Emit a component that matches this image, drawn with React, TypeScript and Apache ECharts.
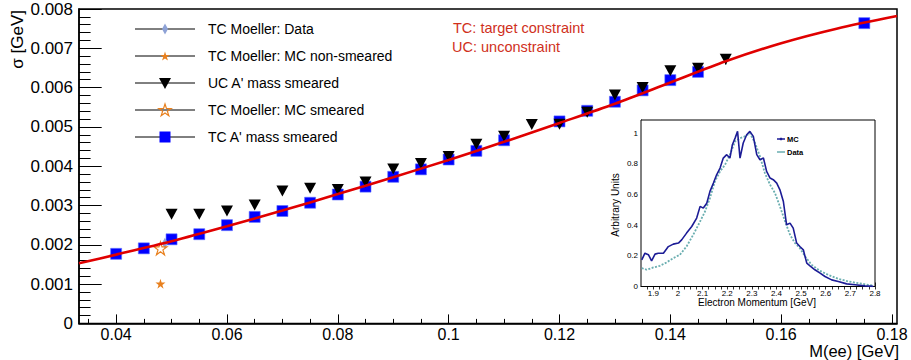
import React, { useEffect, useRef } from "react";
import * as echarts from "echarts";

// ---------- main plot data ----------
const tcMassX = [0.04, 0.045, 0.05, 0.055, 0.06, 0.065, 0.07, 0.075, 0.08, 0.085, 0.09, 0.095, 0.1, 0.105, 0.11, 0.12, 0.125, 0.13, 0.135, 0.14, 0.145, 0.175];
const tcMassSigma = [0.00177, 0.00191, 0.00214, 0.00227, 0.0025, 0.00271, 0.00286, 0.00307, 0.00328, 0.00348, 0.00373, 0.00392, 0.00417, 0.00439, 0.00466, 0.00514, 0.00541, 0.00564, 0.00593, 0.00619, 0.0064, 0.00764];

const ucMassX = [0.05, 0.055, 0.06, 0.065, 0.07, 0.075, 0.08, 0.085, 0.09, 0.095, 0.1, 0.105, 0.11, 0.115, 0.12, 0.125, 0.13, 0.135, 0.14, 0.145, 0.15];
const ucMassSigma = [0.00278, 0.00278, 0.00286, 0.00301, 0.00337, 0.00344, 0.00341, 0.0036, 0.00393, 0.00407, 0.00425, 0.00456, 0.00476, 0.00506, 0.00507, 0.00537, 0.00581, 0.006, 0.00643, 0.00649, 0.00672];
const ucMassErr = [0.00004, 0.00004, 0.00004, 0.00004, 0.00004, 0.00004, 0.00004, 0.00005, 0.00005, 0.00005, 0.00005, 0.00005, 0.00006, 0.00006, 0.00006, 0.00007, 0.00007, 0.00008, 0.00009, 0.0001, 0.00013];

const moellerDataX = [0.0488];
const moellerDataSigma = [0.00204];
const moellerMcNonSmearedX = [0.048];
const moellerMcNonSmearedSigma = [0.00101];
const moellerMcSmearedX = [0.048];
const moellerMcSmearedSigma = [0.00191];

const fitX = [0.0333, 0.04, 0.05, 0.06, 0.07, 0.08, 0.09, 0.1, 0.11, 0.12, 0.13, 0.14, 0.15, 0.16, 0.17, 0.1809];
const fitSigma = [0.00153, 0.00175, 0.00209, 0.00247, 0.00287, 0.00329, 0.00372, 0.00416, 0.00462, 0.0051, 0.00559, 0.00613, 0.00667, 0.00713, 0.0075, 0.00782];

const xMajorTicks = [0.04, 0.06, 0.08, 0.1, 0.12, 0.14, 0.16, 0.18];
const xMinorTicks = [0.035, 0.045, 0.05, 0.055, 0.065, 0.07, 0.075, 0.085, 0.09, 0.095, 0.105, 0.11, 0.115, 0.125, 0.13, 0.135, 0.145, 0.15, 0.155, 0.165, 0.17, 0.175];

// ---------- inset data ----------
const mcMomentum = [1.853, 1.866, 1.88, 1.893, 1.907, 1.92, 1.941, 1.961, 1.981, 2.002, 2.015, 2.035, 2.056, 2.076, 2.09, 2.103, 2.117, 2.13, 2.144, 2.157, 2.171, 2.184, 2.198, 2.211, 2.221, 2.232, 2.242, 2.252, 2.265, 2.279, 2.292, 2.306, 2.32, 2.333, 2.347, 2.36, 2.374, 2.387, 2.401, 2.414, 2.428, 2.441, 2.455, 2.468, 2.482, 2.495, 2.509, 2.523, 2.536, 2.556, 2.577, 2.597, 2.624, 2.651, 2.685, 2.719, 2.759, 2.793];
const mcUnits = [0.174, 0.217, 0.207, 0.167, 0.211, 0.217, 0.217, 0.26, 0.276, 0.283, 0.304, 0.348, 0.391, 0.446, 0.522, 0.511, 0.543, 0.62, 0.674, 0.728, 0.772, 0.837, 0.859, 0.837, 0.924, 0.967, 1.011, 0.837, 0.935, 0.989, 1.011, 0.978, 0.859, 0.826, 0.837, 0.75, 0.707, 0.696, 0.674, 0.63, 0.554, 0.402, 0.413, 0.38, 0.283, 0.261, 0.239, 0.152, 0.135, 0.109, 0.087, 0.065, 0.043, 0.033, 0.017, 0.011, 0.004, 0.001];
const dataMomentum = [1.853, 1.873, 1.9, 1.927, 1.954, 1.981, 2.008, 2.035, 2.062, 2.09, 2.11, 2.13, 2.15, 2.171, 2.191, 2.211, 2.232, 2.252, 2.272, 2.292, 2.313, 2.333, 2.353, 2.374, 2.394, 2.414, 2.435, 2.455, 2.475, 2.495, 2.516, 2.543, 2.577, 2.61, 2.651, 2.692, 2.732, 2.773, 2.793];
const dataUnits = [0.12, 0.109, 0.124, 0.135, 0.157, 0.185, 0.207, 0.261, 0.337, 0.424, 0.489, 0.576, 0.685, 0.75, 0.793, 0.859, 0.946, 0.967, 0.978, 1.0, 0.935, 0.848, 0.739, 0.663, 0.609, 0.522, 0.424, 0.337, 0.283, 0.25, 0.196, 0.141, 0.102, 0.076, 0.05, 0.033, 0.022, 0.011, 0.007];

const insetXMajor = [1.9, 2.0, 2.1, 2.2, 2.3, 2.4, 2.5, 2.6, 2.7, 2.8];
const insetXMinor = [1.875, 1.925, 1.95, 1.975, 2.025, 2.05, 2.075, 2.125, 2.15, 2.175, 2.225, 2.25, 2.275, 2.325, 2.35, 2.375, 2.425, 2.45, 2.475, 2.525, 2.55, 2.575, 2.625, 2.65, 2.675, 2.725, 2.75, 2.775];
const insetYMajor = [0, 0.2, 0.4, 0.6, 0.8, 1.0];
const insetYMinor = [0.04, 0.08, 0.12, 0.16, 0.24, 0.28, 0.32, 0.36, 0.44, 0.48, 0.52, 0.56, 0.64, 0.68, 0.72, 0.76, 0.84, 0.88, 0.92, 0.96, 1.04, 1.08];

const legendLabels = ["TC Moeller: Data", "TC Moeller: MC non-smeared", "UC A' mass smeared", "TC Moeller: MC smeared", "TC A' mass smeared"];

const FONT = "'Liberation Sans', Arial, Helvetica, sans-serif";
const ORANGE = "#e8801e";
const BLUE = "#0000ff";
const DIAMOND = "#8ea2d6";
const MC_COLOR = "#1c1c96";
const DATA_COLOR = "#6aaeb0";

const STAR_PATH =
  "path://M50 0 L61.17 34.63 L97.55 34.55 L68.07 55.87 L79.39 90.45 L50 69 L20.61 90.45 L31.93 55.87 L2.45 34.55 L38.83 34.63 Z";

function starPoints(cx: number, cy: number, r: number): number[][] {
  const pts: number[][] = [];
  for (let i = 0; i < 10; i++) {
    const ang = -Math.PI / 2 + (i * Math.PI) / 5;
    const rr = i % 2 === 0 ? r : r * 0.38;
    pts.push([cx + rr * Math.cos(ang), cy + rr * Math.sin(ang)]);
  }
  return pts;
}

const zip = (xs: number[], ys: number[]) => xs.map((x, i) => [x, ys[i]]);

export default function App() {
  const ref = useRef<HTMLDivElement>(null);
  useEffect(() => {
    document.body.style.margin = "0";
    if (!ref.current) return;
    const chart = echarts.init(ref.current, null, { renderer: "svg" });

    const legendY = [29, 56, 83, 110, 137];
    const lx = 165;
    const legendGraphics: any[] = [];
    legendY.forEach((y, i) => {
      legendGraphics.push({
        type: "line",
        shape: { x1: 135, y1: y, x2: 195, y2: y },
        style: { stroke: "#000", lineWidth: 1 },
      });
      legendGraphics.push({
        type: "text",
        x: 208,
        y: y,
        style: { text: legendLabels[i], fontSize: 14, fontFamily: FONT, fill: "#000", verticalAlign: "middle", align: "left" },
      });
    });
    legendGraphics.push({
      type: "polygon",
      shape: { points: [[lx, legendY[0] - 5.5], [lx + 3, legendY[0]], [lx, legendY[0] + 5.5], [lx - 3, legendY[0]]] },
      style: { fill: DIAMOND },
    });
    legendGraphics.push({
      type: "polygon",
      shape: { points: starPoints(lx, legendY[1] + 0.5, 5) },
      style: { fill: ORANGE },
    });
    legendGraphics.push({
      type: "polygon",
      shape: { points: [[lx - 6, legendY[2] - 5], [lx + 6, legendY[2] - 5], [lx, legendY[2] + 6]] },
      style: { fill: "#000" },
    });
    legendGraphics.push({
      type: "polygon",
      shape: { points: starPoints(lx, legendY[3] + 0.5, 6.5) },
      style: { fill: "none", stroke: ORANGE, lineWidth: 1.2 },
    });
    legendGraphics.push({
      type: "rect",
      shape: { x: lx - 5.5, y: legendY[4] - 5.5, width: 11, height: 11 },
      style: { fill: BLUE },
    });

    const option: any = {
      animation: false,
      backgroundColor: "#fff",
      grid: [
        { left: 79, top: 9, width: 818, height: 314.4, show: true, borderColor: "#000", borderWidth: 1.5, backgroundColor: "transparent", outerBoundsMode: "none" },
        { left: 641, top: 120, width: 234, height: 166.5, show: true, borderColor: "#000", borderWidth: 1, backgroundColor: "#fff", outerBoundsMode: "none", z: 5 },
      ],
      xAxis: [
        {
          type: "value", gridIndex: 0, min: 0.0333, max: 0.1809, position: "bottom",
          axisLine: { show: true, onZero: false, lineStyle: { color: "#000", width: 1.5 } },
          axisTick: { show: true, inside: true, length: 9, customValues: xMajorTicks, lineStyle: { color: "#000", width: 1 } },
          axisLabel: { show: true, customValues: xMajorTicks, formatter: (v: number) => String(+v.toFixed(3)), fontSize: 16, fontFamily: FONT, color: "#000", margin: 3 },
          splitLine: { show: false },
        },
        {
          type: "value", gridIndex: 0, min: 0.0333, max: 0.1809, position: "bottom", offset: 0,
          axisLine: { show: false },
          axisTick: { show: true, inside: true, length: 4.5, customValues: xMinorTicks, lineStyle: { color: "#000", width: 1 } },
          axisLabel: { show: false },
          splitLine: { show: false },
        },
        {
          type: "value", gridIndex: 1, min: 1.85, max: 2.8, position: "bottom",
          axisLine: { show: true, onZero: false, lineStyle: { color: "#000", width: 1 } },
          axisTick: { show: true, inside: true, length: 4, customValues: insetXMajor, lineStyle: { color: "#000", width: 0.8 } },
          axisLabel: { show: true, customValues: insetXMajor, formatter: (v: number) => String(+v.toFixed(2)), fontSize: 8, fontFamily: FONT, color: "#000", margin: 3 },
          splitLine: { show: false },
        },
        {
          type: "value", gridIndex: 1, min: 1.85, max: 2.8, position: "bottom", offset: 0,
          axisLine: { show: false },
          axisTick: { show: true, inside: true, length: 2, customValues: insetXMinor, lineStyle: { color: "#000", width: 0.8 } },
          axisLabel: { show: false },
          splitLine: { show: false },
        },
        {
          type: "value", gridIndex: 1, min: 1.85, max: 2.8, position: "top",
          axisLine: { show: false },
          axisTick: { show: true, inside: true, length: 3, customValues: insetXMajor.concat(insetXMinor), lineStyle: { color: "#000", width: 0.8 } },
          axisLabel: { show: false },
          splitLine: { show: false },
        },
      ],
      yAxis: [
        {
          type: "value", gridIndex: 0, min: 0, max: 0.008, interval: 0.001,
          axisLine: { show: true, onZero: false, lineStyle: { color: "#000", width: 1.5 } },
          axisTick: { show: true, inside: true, length: 22.7, lineStyle: { color: "#000", width: 1 } },
          minorTick: { show: true, splitNumber: 5, length: 11.6, lineStyle: { color: "#000", width: 1 } },
          axisLabel: { formatter: (v: number) => (v === 0 ? "0" : v.toFixed(3)), fontSize: 17, fontFamily: FONT, color: "#000", margin: 6 },
          splitLine: { show: false },
          minorSplitLine: { show: false },
        },
        {
          type: "value", gridIndex: 1, min: 0, max: 1.085, position: "left",
          axisLine: { show: true, onZero: false, lineStyle: { color: "#000", width: 1 } },
          axisTick: { show: true, inside: true, length: 4, customValues: insetYMajor, lineStyle: { color: "#000", width: 0.8 } },
          axisLabel: { show: true, customValues: insetYMajor, formatter: (v: number) => String(+v.toFixed(1)), fontSize: 8, fontFamily: FONT, color: "#000", margin: 3 },
          splitLine: { show: false },
        },
        {
          type: "value", gridIndex: 1, min: 0, max: 1.085, position: "left", offset: 0,
          axisLine: { show: false },
          axisTick: { show: true, inside: true, length: 2, customValues: insetYMinor, lineStyle: { color: "#000", width: 0.8 } },
          axisLabel: { show: false },
          splitLine: { show: false },
        },
        {
          type: "value", gridIndex: 1, min: 0, max: 1.085, position: "right",
          axisLine: { show: false },
          axisTick: { show: true, inside: true, length: 3, customValues: insetYMajor.concat(insetYMinor), lineStyle: { color: "#000", width: 0.8 } },
          axisLabel: { show: false },
          splitLine: { show: false },
        },
      ],
      series: [
        {
          name: "TC A' mass smeared", type: "scatter", xAxisIndex: 0, yAxisIndex: 0,
          symbol: "rect", symbolSize: 11, data: zip(tcMassX, tcMassSigma),
          itemStyle: { color: BLUE, borderColor: "#5a6cff", borderWidth: 0.6, opacity: 1 },
        },
        {
          name: "fit", type: "line", xAxisIndex: 0, yAxisIndex: 0,
          data: zip(fitX, fitSigma), smooth: 0.3, showSymbol: false, symbol: "none",
          lineStyle: { color: "#e00000", width: 2.6 },
        },
        {
          name: "TC Moeller: Data", type: "scatter", xAxisIndex: 0, yAxisIndex: 0,
          symbol: "diamond", symbolSize: [6, 11], data: zip(moellerDataX, moellerDataSigma),
          itemStyle: { color: DIAMOND, opacity: 1 },
        },
        {
          name: "TC Moeller: MC smeared", type: "scatter", xAxisIndex: 0, yAxisIndex: 0,
          symbol: STAR_PATH, symbolSize: 13, data: zip(moellerMcSmearedX, moellerMcSmearedSigma),
          itemStyle: { color: "rgba(255,255,255,0)", borderColor: ORANGE, borderWidth: 1.2, opacity: 1 },
        },
        {
          name: "TC Moeller: MC non-smeared", type: "scatter", xAxisIndex: 0, yAxisIndex: 0,
          symbol: STAR_PATH, symbolSize: 10, data: zip(moellerMcNonSmearedX, moellerMcNonSmearedSigma),
          itemStyle: { color: ORANGE, opacity: 1 },
        },
        {
          name: "UC errors", type: "custom", xAxisIndex: 0, yAxisIndex: 0,
          data: ucMassX.map((x, i) => [x, ucMassSigma[i], ucMassErr[i]]),
          renderItem: (params: any, api: any) => {
            const x = api.value(0), y = api.value(1), e = api.value(2);
            const top = api.coord([x, y + e]);
            const bot = api.coord([x, y - e]);
            return { type: "line", shape: { x1: top[0], y1: top[1], x2: bot[0], y2: bot[1] }, style: { stroke: "#000", lineWidth: 1.2 } };
          },
        },
        {
          name: "UC A' mass smeared", type: "scatter", xAxisIndex: 0, yAxisIndex: 0,
          symbol: "triangle", symbolRotate: 180, symbolSize: [12, 11], data: zip(ucMassX, ucMassSigma),
          itemStyle: { color: "#000", opacity: 1 },
        },
        {
          name: "Data", type: "line", xAxisIndex: 2, yAxisIndex: 1, z: 6,
          data: zip(dataMomentum, dataUnits), showSymbol: false, symbol: "none",
          lineStyle: { color: DATA_COLOR, width: 1.8, type: [2, 1.5] },
        },
        {
          name: "MC", type: "line", xAxisIndex: 2, yAxisIndex: 1, z: 6,
          data: zip(mcMomentum, mcUnits), showSymbol: false, symbol: "none",
          lineStyle: { color: MC_COLOR, width: 1.6 },
        },
      ],
      graphic: [
        ...legendGraphics,
        { type: "text", x: 453, y: 28, style: { text: "TC: target constraint", fontSize: 14.5, fontFamily: FONT, fill: "#d0301c", verticalAlign: "middle" } },
        { type: "text", x: 452, y: 47, style: { text: "UC: unconstraint", fontSize: 14.5, fontFamily: FONT, fill: "#d0301c", verticalAlign: "middle" } },
        { type: "text", x: 899, y: 351, style: { text: "M(ee) [GeV]", fontSize: 16.5, fontFamily: FONT, fill: "#000", align: "right", verticalAlign: "middle" } },
        { type: "text", x: 17, y: 10, rotation: Math.PI / 2, style: { text: "σ [GeV]", fontSize: 17, fontFamily: FONT, fill: "#000", align: "right", verticalAlign: "middle" } },
        { type: "text", x: 757, y: 302, z: 10, style: { text: "Electron Momentum [GeV]", fontSize: 10, fontFamily: FONT, fill: "#000", align: "center", verticalAlign: "middle" } },
        { type: "text", x: 615, y: 205, z: 10, rotation: Math.PI / 2, style: { text: "Arbitrary Units", fontSize: 10, fontFamily: FONT, fill: "#000", align: "center", verticalAlign: "middle" } },
        { type: "line", z: 10, shape: { x1: 777, y1: 139, x2: 785, y2: 139 }, style: { stroke: MC_COLOR, lineWidth: 1.5 } },
        { type: "circle", z: 10, shape: { cx: 781, cy: 139, r: 1.3 }, style: { fill: MC_COLOR } },
        { type: "text", x: 787, y: 139, z: 10, style: { text: "MC", fontSize: 7.5, fontWeight: "bold", fontFamily: FONT, fill: "#000", verticalAlign: "middle" } },
        { type: "line", z: 10, shape: { x1: 777, y1: 152, x2: 785, y2: 152 }, style: { stroke: DATA_COLOR, lineWidth: 1.5 } },
        { type: "text", x: 787, y: 152, z: 10, style: { text: "Data", fontSize: 7.5, fontWeight: "bold", fontFamily: FONT, fill: "#000", verticalAlign: "middle" } },
      ],
    };
    chart.setOption(option);
    return () => chart.dispose();
  }, []);
  return <div ref={ref} style={{ width: 911, height: 360 }} />;
}
